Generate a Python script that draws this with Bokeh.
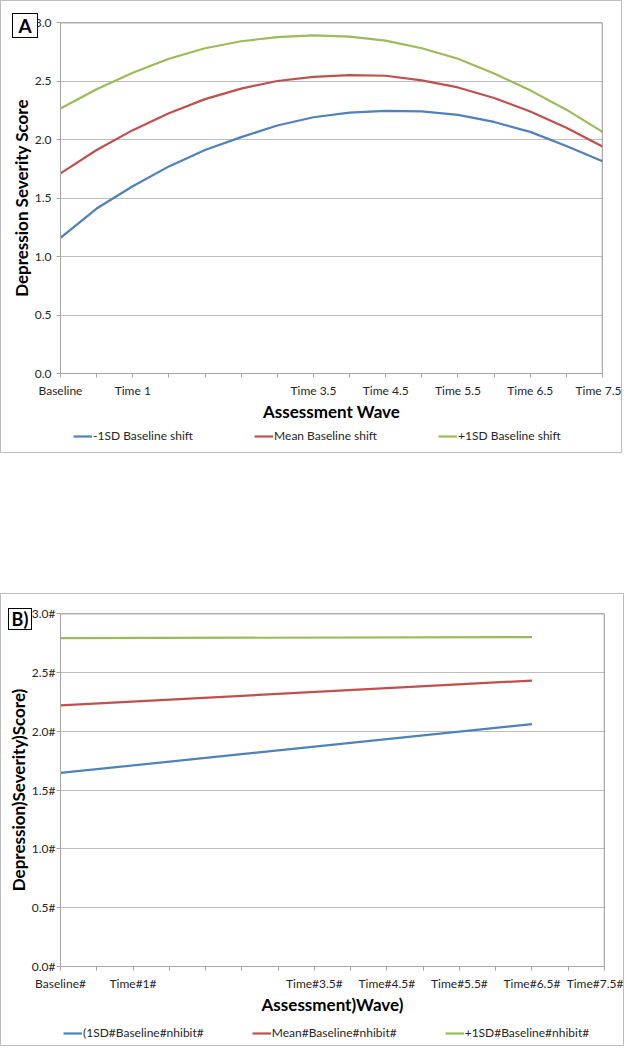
from bokeh.plotting import figure
from bokeh.models import FixedTicker, Legend, LegendItem, Spacer, Span, Range1d, Div
from bokeh.layouts import column
from bokeh.embed import file_html
from bokeh.resources import INLINE

# ---------------- data ----------------
# Panel A: assessment wave index (0 = Baseline ... 15 = Time 7.5)
wave_a = list(range(16))
minus1_shift = [1.16, 1.41, 1.60, 1.77, 1.91, 2.02, 2.12, 2.19, 2.23, 2.245, 2.24, 2.21, 2.15, 2.065, 1.945, 1.815]
mean_shift = [1.71, 1.91, 2.08, 2.225, 2.345, 2.435, 2.50, 2.535, 2.55, 2.545, 2.505, 2.445, 2.355, 2.24, 2.10, 1.94]
plus1_shift = [2.265, 2.43, 2.57, 2.69, 2.78, 2.84, 2.875, 2.89, 2.88, 2.845, 2.78, 2.69, 2.565, 2.42, 2.255, 2.065]

# Panel B: straight lines from Baseline to wave 13
wave_b = [0, 13]
minus1_inhibit = [1.645, 2.06]
mean_inhibit = [2.22, 2.43]
plus1_inhibit = [2.79, 2.80]

tick_positions = list(range(16))
label_positions = [0, 2, 7, 9, 11, 13, 15]
x_labels_a = ["Baseline", "Time 1", "Time 3.5", "Time 4.5", "Time 5.5", "Time 6.5", "Time 7.5"]
x_labels_b = ["Baseline#", "Time#1#", "Time#3.5#", "Time#4.5#", "Time#5.5#", "Time#6.5#", "Time#7.5#"]
y_ticks = [0.0, 0.5, 1.0, 1.5, 2.0, 2.5, 3.0]
y_labels_a = ["0.0", "0.5", "1.0", "1.5", "2.0", "2.5", "3.0"]
y_labels_b = ["0.0#", "0.5#", "1.0#", "1.5#", "2.0#", "2.5#", "3.0#"]

legend_a = ["-1SD Baseline shift", "Mean Baseline shift", "+1SD Baseline shift"]
legend_b = ["(1SD#Baseline#nhibit#", "Mean#Baseline#nhibit#", "+1SD#Baseline#nhibit#"]

COLORS = ["#4F81BD", "#C0504D", "#9BBB59"]
FONT = "Lato"
BOX = "1px solid #bdbdbd"


def main_panel(width, height, left, right, top, bottom, xs, series, x_labels, y_labels,
               y_title, x_title, ylab_standoff):
    p = figure(width=width, height=height, output_backend="svg", toolbar_location=None,
               x_range=Range1d(0, 15), y_range=Range1d(0, 3.0),
               min_border_left=left, min_border_right=right,
               min_border_top=top, min_border_bottom=bottom)
    p.styles = {"border-top": BOX, "border-left": BOX, "border-right": BOX}
    p.outline_line_color = None
    p.background_fill_color = "white"
    p.border_fill_color = "white"

    over = {t: "" for t in tick_positions}
    for pos, lab in zip(label_positions, x_labels):
        over[pos] = lab
    p.xaxis.ticker = FixedTicker(ticks=tick_positions)
    p.xaxis.major_label_overrides = over
    p.yaxis.ticker = FixedTicker(ticks=y_ticks)
    p.yaxis.major_label_overrides = {t: l for t, l in zip(y_ticks, y_labels)}

    for ax in (p.xaxis[0], p.yaxis[0]):
        ax.axis_line_color = "#a6a6a6"
        ax.major_tick_line_color = "#a6a6a6"
        ax.major_tick_out = 4
        ax.major_tick_in = 0
        ax.minor_tick_line_color = None
        ax.major_label_text_font = FONT
        ax.major_label_text_font_size = "12px"
        ax.major_label_text_color = "#262626"
        ax.axis_label_text_font = FONT
        ax.axis_label_text_font_style = "bold"
        ax.axis_label_text_font_size = "17px"
        ax.axis_label_text_color = "black"
    p.xaxis.axis_label = x_title
    p.yaxis.axis_label = y_title
    p.xaxis.major_label_standoff = 5
    p.xaxis.axis_label_standoff = 0
    p.yaxis.major_label_standoff = ylab_standoff
    p.yaxis.axis_label_standoff = 0

    p.xgrid.grid_line_color = None
    p.ygrid.grid_line_color = "#bdbdbd"
    p.ygrid.grid_line_width = 1

    p.add_layout(Span(location=3.0, dimension="width", line_color="#5f5f5f", line_width=1.3))
    p.add_layout(Span(location=15, dimension="height", line_color="#5f5f5f", line_width=1.3))

    for ys, c in zip(series, COLORS):
        p.line(xs, ys, line_color=c, line_width=2.2)
    return p


def legend_strip(width, height, xs, series, labels, loc, spacing):
    # strip below the axis that carries the legend; its data range is set so the
    # series themselves stay out of view, only the legend glyphs show
    q = figure(width=width, height=height, output_backend="svg", toolbar_location=None,
               x_range=Range1d(0, 15), y_range=Range1d(10, 11),
               x_axis_location=None, y_axis_location=None,
               min_border_left=0, min_border_right=0, min_border_top=0, min_border_bottom=0)
    q.styles = {"border-bottom": BOX, "border-left": BOX, "border-right": BOX}
    q.outline_line_color = None
    q.grid.visible = False
    q.background_fill_color = "white"
    q.border_fill_color = "white"
    items = []
    for ys, c, lab in zip(series, COLORS, labels):
        r = q.line(xs, ys, line_color=c, line_width=2.2)
        items.append(LegendItem(label=lab, renderers=[r]))
    leg = Legend(items=items, orientation="horizontal", location=loc,
                 glyph_width=19, glyph_height=12, label_standoff=1,
                 label_height=12, spacing=spacing, padding=0, margin=0,
                 border_line_color=None, background_fill_alpha=0,
                 label_text_font=FONT, label_text_font_size="12px", label_text_color="#262626")
    q.add_layout(leg)
    return q


def tag(text, left, top, w, h, size):
    return Div(text=text, width=w, height=h,
               styles={"position": "absolute", "left": f"{left}px", "top": f"{top}px",
                       "border": "1px solid black", "box-sizing": "border-box",
                       "font-family": FONT, "font-weight": "bold", "font-size": size,
                       "line-height": f"{h - 2}px", "text-align": "center",
                       "background-color": "white", "z-index": "10", "color": "black"})


series_a = [minus1_shift, mean_shift, plus1_shift]
series_b = [minus1_inhibit, mean_inhibit, plus1_inhibit]

pA = main_panel(622, 423, 59, 21, 21, 51, wave_a, series_a, x_labels_a, y_labels_a,
                "Depression Severity Score", "Assessment Wave", 5)
lA = legend_strip(622, 30, wave_a, series_a, legend_a, (13, 10), 61)

pB = main_panel(624, 423, 57, 21, 19, 50, wave_b, series_b, x_labels_b, y_labels_b,
                "Depression)Severity)Score)", "Assessment)Wave)", 1)
lB = legend_strip(624, 30, wave_b, series_b, legend_b, (3, 6), 48)

tagA = tag("A", 7, 8, 26, 25, "19px")
tagB = tag("B)", 3, 603, 24, 22, "18px")

layout = column(pA, lA, Spacer(height=140), pB, lB, tagA, tagB)
open("out.html", "w").write(file_html(layout, INLINE))
